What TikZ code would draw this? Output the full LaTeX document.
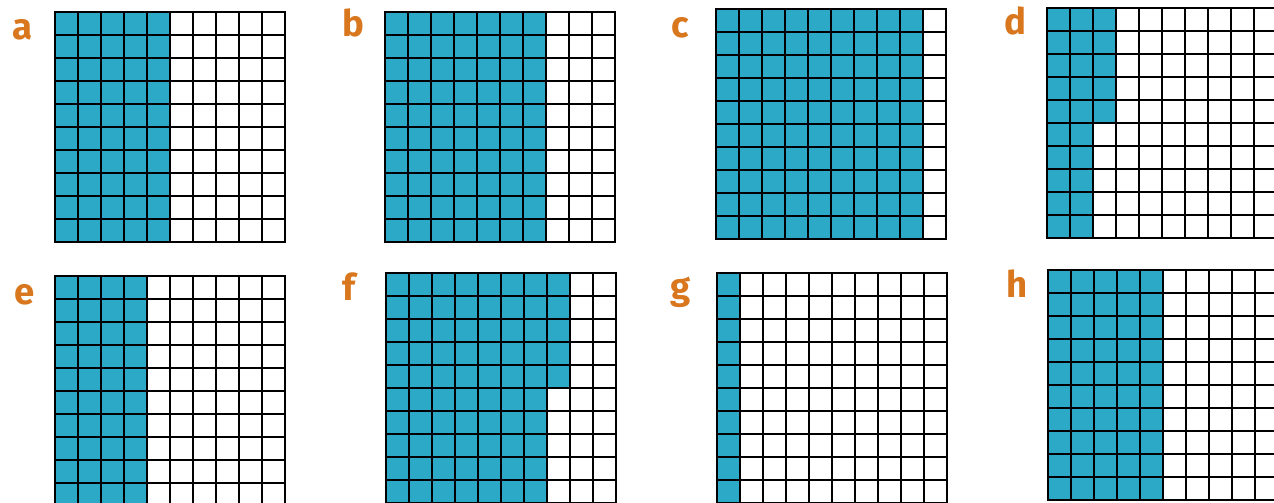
\documentclass[tikz,border=0pt]{standalone}
\usepackage{fontspec}
\setsansfont{Fira Sans}
\usepackage{tikz}

\definecolor{hundredblue}{RGB}{44,169,198}
\definecolor{labelorange}{RGB}{217,119,31}

\tikzset{
  cellfill/.style={fill=hundredblue},
  gridline/.style={draw=black, line width=2.1pt, line cap=rect},
  letter/.style={anchor=base west, inner sep=0pt, text=labelorange,
    font=\sffamily\bfseries\fontsize{26}{30}\selectfont}
}

% one hundred-square: top left x, top left y, full columns, extra cells in next column
\newcommand{\hundredgrid}[4]{%
  \begin{scope}[shift={(#1,#2)}]
    \fill[cellfill] (0,0) rectangle (23*#3,230);
    \ifnum#4>0 \fill[cellfill] (23*#3,0) rectangle (23*#3+23,23*#4);\fi
    \foreach \k in {0,...,10} {
      \draw[gridline] (23*\k,0) -- (23*\k,230);
      \draw[gridline] (0,23*\k) -- (230,23*\k);
    }
  \end{scope}}

\begin{document}
\begin{tikzpicture}[x=0.025cm, y=-0.025cm]
  \useasboundingbox (0,0) rectangle (1274,503);
  \clip (0,0) rectangle (1274,503);
  \fill[white] (0,0) rectangle (1274,503);
  % Grids
  \hundredgrid{55}{12}{5}{0}
  \hundredgrid{385}{12}{7}{0}
  \hundredgrid{716}{9}{9}{0}
  \hundredgrid{1047}{8}{2}{5}
  \hundredgrid{55}{276}{4}{0}
  \hundredgrid{386}{273}{7}{5}
  \hundredgrid{717}{273}{1}{0}
  \hundredgrid{1048}{270}{5}{0}
  % Labels
  \node[letter] (a) at (12,40) {a};
  \node[letter] (b) at (342,37) {b};
  \node[letter] (c) at (671,38) {c};
  \node[letter] (d) at (1004,35) {d};
  \node[letter] (e) at (14,305) {e};
  \node[letter] (f) at (342,301) {f};
  \node[letter] (g) at (670,300) {g};
  \node[letter] (h) at (1006,298) {h};
\end{tikzpicture}
\end{document}
